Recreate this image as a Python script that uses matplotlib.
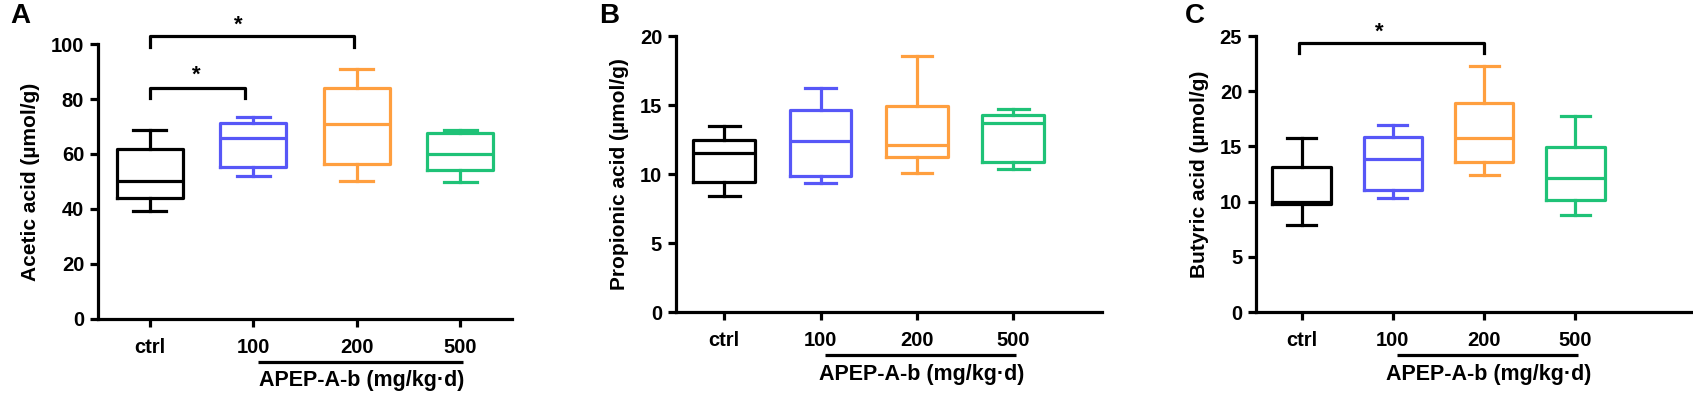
import matplotlib
matplotlib.use('Agg')
import matplotlib.pyplot as plt
from matplotlib import transforms

plt.rcParams['font.family'] = ['Liberation Sans', 'DejaVu Sans']
plt.rcParams['font.weight'] = 'bold'

groups = ['ctrl', '100', '200', '500']
colors = ['#000000', '#5757F7', '#FF9F3F', '#1FC277']

# whislo, q1, med, q3, whishi per group
acetic = [[39.2, 43.9, 50.2, 61.7, 68.6],
          [52.0, 55.4, 65.7, 71.4, 73.6],
          [50.2, 56.2, 70.8, 83.9, 90.9],
          [49.8, 54.2, 59.9, 67.6, 68.7]]
propionic = [[8.44, 9.43, 11.54, 12.45, 13.47],
             [9.33, 9.84, 12.4, 14.63, 16.2],
             [10.04, 11.2, 12.07, 14.92, 18.55],
             [10.37, 10.88, 13.71, 14.27, 14.73]]
butyric = [[7.86, 9.76, 9.95, 13.09, 15.78],
           [10.31, 11.03, 13.88, 15.84, 16.93],
           [12.42, 13.63, 15.72, 18.92, 22.31],
           [8.8, 10.19, 12.15, 14.96, 17.74]]

ylabels = ['Acetic acid (µmol/g)', 'Propionic acid (µmol/g)', 'Butyric acid (µmol/g)']
letters = ['A', 'B', 'C']
ylims = [100, 20, 25]
ysteps = [20, 5, 5]
group_label = 'APEP-A-b (mg/kg·d)'

# brackets: (x_left, x_right, y_top, y_end, star_x, star_y)
brackets = [
    [(0, 0.92, 84.1, 80.2, 0.45, 88.5), (0, 1.97, 103.0, 99.0, 0.86, 107.0)],
    [],
    [(-0.03, 2.0, 24.33, 23.49, 0.85, 25.3)],
]

# axes rects in figure fraction
rects = [[0.0579, 0.1904, 0.2445, 0.6979],
         [0.3993, 0.2081, 0.2516, 0.7005],
         [0.7419, 0.2081, 0.2581, 0.7005]]
xright = [3.5, 3.92, 4.29]
letter_x = [0.006, 0.354, 0.700]

fig = plt.figure(figsize=(16.93, 3.94), dpi=100)
lw = 2.3

for i, data in enumerate([acetic, propionic, butyric]):
    ax = fig.add_axes(rects[i])
    for j, d in enumerate(data):
        st = dict(whislo=d[0], q1=d[1], med=d[2], q3=d[3], whishi=d[4], fliers=[])
        c = colors[j]
        ax.bxp([st], positions=[j], widths=0.64, capwidths=0.32, showfliers=False,
               boxprops=dict(color=c, lw=lw), medianprops=dict(color=c, lw=lw),
               whiskerprops=dict(color=c, lw=lw), capprops=dict(color=c, lw=lw),
               manage_ticks=False)
    ax.set_xlim(-0.5, xright[i])
    ax.set_ylim(0, ylims[i])
    ax.set_yticks(range(0, ylims[i] + 1, ysteps[i]))
    ax.set_xticks(range(4))
    ax.set_xticklabels(groups)
    for s in ['top', 'right']:
        ax.spines[s].set_visible(False)
    for s in ['left', 'bottom']:
        ax.spines[s].set_linewidth(lw)
    ax.tick_params(width=lw, length=6, labelsize=14.5, pad=4)
    ax.tick_params(axis='x', pad=8)
    ax.set_ylabel(ylabels[i], fontsize=15, fontweight='bold', labelpad=8)

    trans = transforms.blended_transform_factory(ax.transData, ax.transAxes)
    ax.plot([1.05, 3.03], [-0.156, -0.156], color='black', lw=lw, transform=trans,
            clip_on=False, solid_capstyle='butt')
    ax.text(2.05, -0.225, group_label, transform=trans, ha='center', va='center',
            fontsize=15.5, fontweight='bold')

    for xl, xr, yt, ye, sx, sy in brackets[i]:
        ax.plot([xl, xl, xr, xr], [ye, yt, yt, ye], color='black', lw=lw, clip_on=False)
        ax.text(sx, sy, '*', ha='center', va='center', fontsize=16, fontweight='bold')

    fig.text(letter_x[i], 0.96, letters[i], fontsize=20, fontweight='bold', va='center')

fig.savefig('out.png', dpi=100)
